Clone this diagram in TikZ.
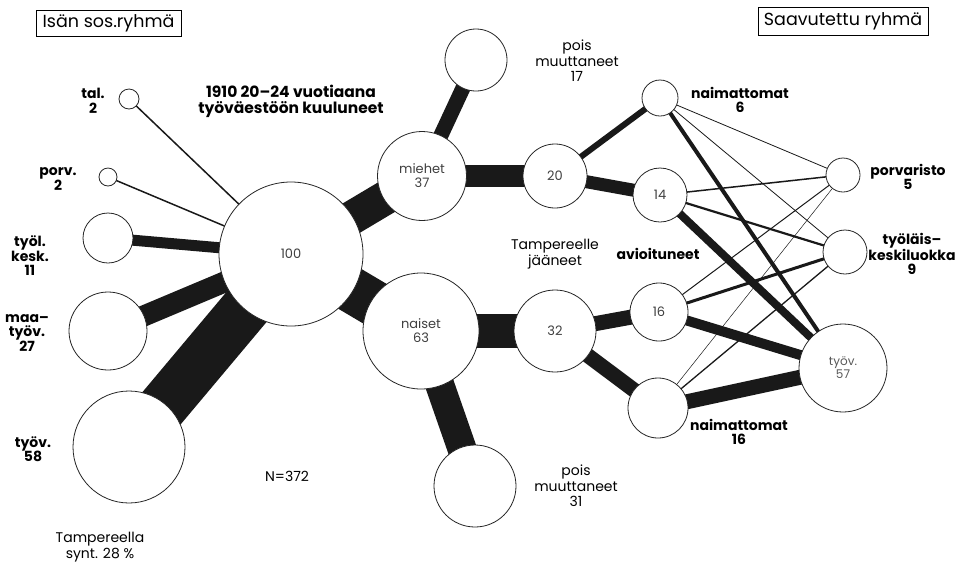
\documentclass[tikz,border=0pt]{standalone}
\usepackage{fontspec}
\setmainfont{Poppins}
\usetikzlibrary{backgrounds}
\begin{document}
\begin{tikzpicture}[x=1pt,y=-1pt,
  circ/.style={circle,draw=black!85,line width=0.8pt,fill=white,inner sep=0pt,
    font=\fontsize{13}{14}\selectfont,text=black!75,align=center},
  lbl/.style={font=\bfseries\fontsize{14}{14.5}\selectfont,align=center,inner sep=0pt},
  rlbl/.style={font=\fontsize{14}{15.5}\selectfont,align=center,inner sep=0pt},
  titlebox/.style={draw=black,line width=0.8pt,font=\fontsize{17.5}{19}\selectfont,
    minimum height=26pt,inner xsep=3pt,inner ysep=0pt},
  band/.style={draw=black!90,line cap=butt},
]
\useasboundingbox (0,0) rectangle (963,566);

% circles
\node[circ,minimum size=20pt]  (tal)   at (129,99) {};
\node[circ,minimum size=18pt]  (porv)  at (108,177) {};
\node[circ,minimum size=50pt]  (tyol)  at (108,238) {};
\node[circ,minimum size=78pt]  (maa)   at (108,331) {};
\node[circ,minimum size=112pt] (tyov)  at (129,447) {};
\node[circ,minimum size=144pt] (all)   at (291,254) {100};
\node[circ,minimum size=89pt]  (mies)  at (422,176) {miehet\\37};
\node[circ,minimum size=62pt]  (pois1) at (476,60) {};
\node[circ,minimum size=64pt]  (m20)   at (555,176) {20};
\node[circ,minimum size=116pt] (nais)  at (421,331) {naiset\\63};
\node[circ,minimum size=82pt]  (n32)   at (555,331) {32};
\node[circ,minimum size=82pt]  (pois2) at (475,486) {};
\node[circ,minimum size=36pt]  (naim6) at (660,98) {};
\node[circ,minimum size=54pt]  (m14)   at (660,195) {14};
\node[circ,minimum size=58pt]  (n16)   at (659,312) {16};
\node[circ,minimum size=60pt]  (naim16) at (658,408) {};
\node[circ,minimum size=34pt]  (porvar) at (843,175) {};
\node[circ,minimum size=44pt]  (tkesk) at (845,252) {};
\node[circ,minimum size=88pt,font=\fontsize{12}{13}\selectfont,text=black!65] (tyov57) at (843,368) {työv.\\57};

% connectors
\begin{scope}[on background layer]
\fill[white] (0,0) rectangle (963,566);
\draw[band,line width=1.5pt] (tal.center) -- (all.center);
\draw[band,line width=1.5pt] (porv.center) -- (all.center);
\draw[band,line width=11pt] (tyol.center) -- (all.center);
\draw[band,line width=21pt] (maa.center) -- (all.center);
\draw[band,line width=50pt] (tyov.center) -- (all.center);
\draw[band,line width=34pt] (all.center) -- (mies.center);
\draw[band,line width=46pt] (all.center) -- (nais.center);
\draw[band,line width=15pt] (mies.center) -- (pois1.center);
\draw[band,line width=22pt] (mies.center) -- (m20.center);
\draw[band,line width=34pt] (nais.center) -- (n32.center);
\draw[band,line width=29pt] (nais.center) -- (pois2.center);
\draw[band,line width=6pt] (m20.center) -- (naim6.center);
\draw[band,line width=13pt] (m20.center) -- (m14.center);
\draw[band,line width=15pt] (n32.center) -- (n16.center);
\draw[band,line width=15pt] (n32.center) -- (naim16.center);
\draw[band,line width=0.8pt] (naim6.center) -- (porvar.center);
\draw[band,line width=0.8pt] (naim6.center) -- (tkesk.center);
\draw[band,line width=4pt] (naim6.center) -- (tyov57.center);
\draw[band,line width=1.5pt] (m14.center) -- (porvar.center);
\draw[band,line width=2.2pt] (m14.center) -- (tkesk.center);
\draw[band,line width=8pt] (m14.center) -- (tyov57.center);
\draw[band,line width=1pt] (n16.center) -- (porvar.center);
\draw[band,line width=3pt] (n16.center) -- (tkesk.center);
\draw[band,line width=10pt] (n16.center) -- (tyov57.center);
\draw[band,line width=0.5pt] (naim16.center) -- (porvar.center);
\draw[band,line width=1.3pt] (naim16.center) -- (tkesk.center);
\draw[band,line width=15pt] (naim16.center) -- (tyov57.center);
\end{scope}

% title boxes
\node[titlebox,minimum width=145pt] (tleft) at (108.5,23) {Isän sos.ryhmä};
\node[titlebox,minimum width=170pt,minimum height=28pt] (tright) at (843,21) {Saavutettu ryhmä};

% labels
\node[lbl] (ltal) at (93,101) {tal.\\2};
\node[lbl] (lporv) at (58,179) {porv.\\2};
\node[lbl] (ltyol) at (30,256) {työl.\\kesk.\\11};
\node[lbl] (lmaa) at (27,333) {maa–\\työv.\\27};
\node[lbl] (ltyov) at (33,449) {työv.\\58};
\node[lbl,font=\bfseries\fontsize{15.5}{16}\selectfont] (l1910) at (291,101) {1910 20–24 vuotiaana\\työväestöön kuuluneet};
\node[rlbl] (lpois1) at (577,61) {pois\\muuttaneet\\17};
\node[rlbl] (ljaa) at (555,254) {Tampereelle\\jääneet};
\node[lbl] (lavio) at (658,254) {avioituneet};
\node[rlbl] (lpois2) at (576,486) {pois\\muuttaneet\\31};
\node[rlbl] (lN) at (287,476) {N=372};
\node[rlbl] (lsynt) at (100,547) {Tampereella\\synt. 28 \%};
\node[lbl] (lnaim6) at (740,100) {naimattomat\\6};
\node[lbl] (lporvar) at (908,177) {porvaristo\\5};
\node[lbl] (ltkesk) at (912,254) {työläis–\\keskiluokka\\9};
\node[lbl] (lnaim16) at (739,432) {naimattomat\\16};
\end{tikzpicture}
\end{document}
